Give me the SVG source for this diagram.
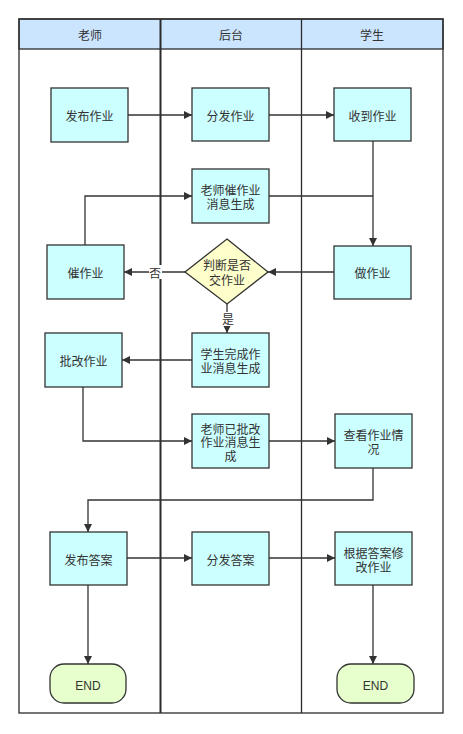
<svg xmlns="http://www.w3.org/2000/svg" width="463" height="734" viewBox="0 0 463 734">
<style>
text{font-family:"Liberation Sans","Noto Sans CJK SC",sans-serif;font-size:12px;fill:#333;text-anchor:middle;dominant-baseline:central}
.lane{fill:none;stroke:#2b2b2b;stroke-width:1.3}
.hdr{fill:#cce5ff;stroke:#2b2b2b;stroke-width:1.3}
.box{fill:#ccffff;stroke:#333;stroke-width:1.3}
.dia{fill:#ffffcc;stroke:#333;stroke-width:1.3}
.end{fill:#e6ffcc;stroke:#333;stroke-width:1.3}
.c{fill:none;stroke:#333;stroke-width:1.3}
.lbl{fill:#fff;stroke:none}
</style>
<defs>
<marker id="arr" viewBox="0 0 10 10" refX="10" refY="5" markerWidth="8" markerHeight="8" markerUnits="userSpaceOnUse" orient="auto">
<path d="M0,0 L10,5 L0,10 Z" fill="#333"/>
</marker>
</defs>
<rect width="463" height="734" fill="#fff"/>
<g id="lanes">
<rect class="hdr" x="19" y="19" width="424" height="30"/>
<rect class="lane" x="19" y="19" width="424" height="694"/>
<line class="lane" x1="160.5" y1="19" x2="160.5" y2="713" style="stroke-width:2"/>
<line class="lane" x1="301.5" y1="19" x2="301.5" y2="713"/>
<text x="90" y="35.5">老师</text>
<text x="231" y="35.5">后台</text>
<text x="372" y="35.5">学生</text>
</g>
<g id="connectors">
<path class="c" d="M128,115 H192" marker-end="url(#arr)"/>
<path class="c" d="M269,115 H334" marker-end="url(#arr)"/>
<path class="c" d="M373,141 V246" marker-end="url(#arr)"/>
<path class="c" d="M269,196 H373"/>
<path class="c" d="M85,245 V196 H192" marker-end="url(#arr)"/>
<path class="c" d="M334,272 H268" marker-end="url(#arr)"/>
<path class="c" d="M185,272 H124" marker-end="url(#arr)"/>
<rect class="lbl" x="149" y="265" width="13" height="14"/>
<text x="155" y="273.5">否</text>
<path class="c" d="M227,304 V333" marker-end="url(#arr)"/>
<rect class="lbl" x="221" y="312" width="13" height="14"/>
<text x="228" y="320">是</text>
<path class="c" d="M192,360 H122" marker-end="url(#arr)"/>
<path class="c" d="M83,387 V441 H192" marker-end="url(#arr)"/>
<path class="c" d="M269,441 H335" marker-end="url(#arr)"/>
<path class="c" d="M373,468 V500 H88 V532" marker-end="url(#arr)"/>
<path class="c" d="M127,558 H192" marker-end="url(#arr)"/>
<path class="c" d="M269,558 H335" marker-end="url(#arr)"/>
<path class="c" d="M88,585 V664" marker-end="url(#arr)"/>
<path class="c" d="M373,585 V664" marker-end="url(#arr)"/>
</g>
<g id="n1"><rect class="box" x="51" y="88" width="77" height="54"/><text x="89.5" y="116.5">发布作业</text></g>
<g id="n2"><rect class="box" x="192" y="88" width="77" height="53"/><text x="230.5" y="116.5">分发作业</text></g>
<g id="n3"><rect class="box" x="334" y="88" width="77" height="53"/><text x="372.5" y="116.5">收到作业</text></g>
<g id="n4"><rect class="box" x="192" y="169" width="77" height="54"/><text x="230.5" y="190.5">老师催作业</text><text x="230.5" y="204.5">消息生成</text></g>
<g id="n5"><rect class="box" x="47" y="245" width="77" height="54"/><text x="85.5" y="273.5">催作业</text></g>
<g id="n6"><path class="dia" d="M227,239 L268,272 L227,304 L185,272 Z"/><text x="227" y="265.5">判断是否</text><text x="227" y="280.5">交作业</text></g>
<g id="n7"><rect class="box" x="334" y="246" width="77" height="53"/><text x="372.5" y="273.5">做作业</text></g>
<g id="n8"><rect class="box" x="192" y="333" width="77" height="54"/><text x="230.5" y="354.5">学生完成作</text><text x="230.5" y="368.5">业消息生成</text></g>
<g id="n9"><rect class="box" x="45" y="333" width="77" height="54"/><text x="83.5" y="361.5">批改作业</text></g>
<g id="n10"><rect class="box" x="192" y="414" width="77" height="54"/><text x="230.5" y="429.5">老师已批改</text><text x="230.5" y="442.5">作业消息生</text><text x="230.5" y="456.5">成</text></g>
<g id="n11"><rect class="box" x="335" y="414" width="77" height="54"/><text x="373.5" y="435.5">查看作业情</text><text x="373.5" y="449.5">况</text></g>
<g id="n12"><rect class="box" x="50" y="532" width="77" height="53"/><text x="88.5" y="560.5">发布答案</text></g>
<g id="n13"><rect class="box" x="192" y="532" width="77" height="53"/><text x="230.5" y="560.5">分发答案</text></g>
<g id="n14"><rect class="box" x="335" y="532" width="77" height="53"/><text x="373.5" y="553.5">根据答案修</text><text x="373.5" y="567.5">改作业</text></g>
<g id="n15"><rect class="end" x="50" y="664" width="76" height="39" rx="14"/><text x="88" y="685.5">END</text></g>
<g id="n16"><rect class="end" x="337" y="664" width="77" height="39" rx="14"/><text x="375.5" y="685.5">END</text></g>
</svg>
